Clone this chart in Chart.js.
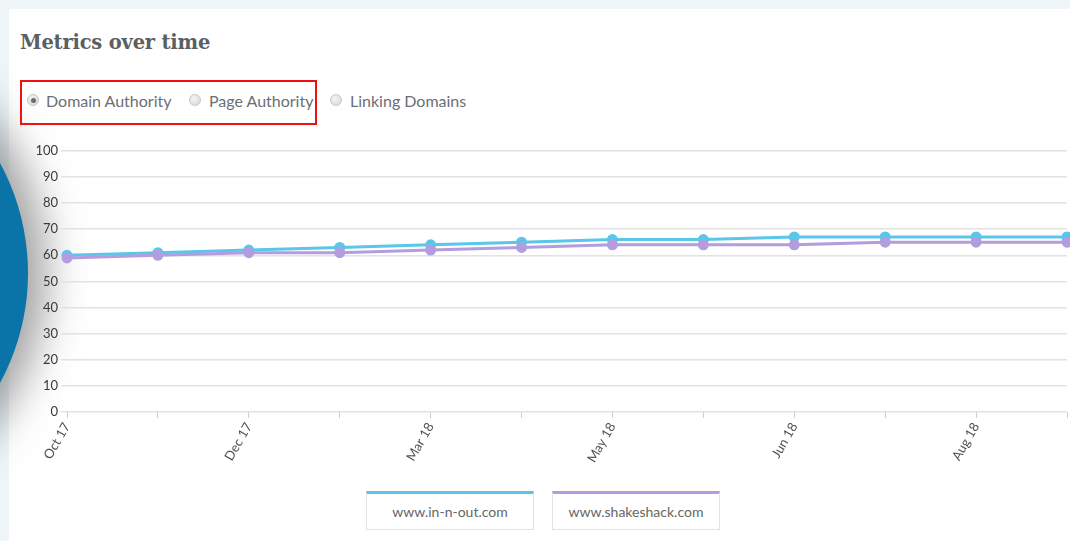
<!DOCTYPE html>
<html>
<head>
<meta charset="utf-8">
<script src="https://cdn.jsdelivr.net/npm/chart.js@4.4.0/dist/chart.umd.min.js"></script>
<style>
  html,body{margin:0;padding:0;}
  body{width:1070px;height:541px;background:#eef6f8;position:relative;overflow:hidden;font-family:Lato,"Open Sans",sans-serif;}
  #card{position:absolute;left:9px;top:9px;width:1061px;height:532px;background:#fff;}
  #title{position:absolute;left:20px;top:31px;font-family:"DejaVu Serif",serif;font-weight:bold;font-size:19.5px;color:#5a5f63;letter-spacing:-0.2px;}
  .rt{position:absolute;top:91px;font-size:16px;color:#6b6f73;white-space:nowrap;}
  .dot{position:absolute;top:94px;width:12px;height:12px;border-radius:50%;background:radial-gradient(circle at 40% 35%,#f4f4f4,#d6d6d6);border:1px solid #c8c8c8;box-sizing:border-box;}
  .dot.on::after{content:"";position:absolute;left:2.5px;top:2.5px;width:5px;height:5px;border-radius:50%;background:#6a6a6a;}
  #redbox{position:absolute;left:20px;top:80px;width:297px;height:45px;border:2px solid #f01010;box-sizing:border-box;}
  #circle{position:absolute;left:-432px;top:43px;width:460px;height:460px;border-radius:50%;background:#0a73a7;box-shadow:6px 0 40px 12px rgba(70,70,70,0.5);}
  #wrap{position:absolute;left:0;top:140px;width:1070px;height:360px;}
  #legend{position:absolute;top:491px;left:0;width:1070px;}
  .lg{position:absolute;height:39px;border:1px solid #e3e3e3;border-top:3px solid;box-sizing:border-box;font-size:14px;color:#666;text-align:center;line-height:36px;background:#fff;}
</style>
</head>
<body>
<div id="card"></div>
<div id="circle"></div>
<div id="title">Metrics over time</div>
<div id="radios"></div>
<div id="redbox"></div>
<div id="wrap"><canvas id="c" width="1070" height="360"></canvas></div>
<div id="legend"></div>
<script>
const categories = ["Oct 17","Nov 17","Dec 17","Jan 18","Mar 18","Apr 18","May 18","May 18","Jun 18","Jul 18","Aug 18","Sep 18"];
const seriesNames = ["www.in-n-out.com","www.shakeshack.com"];
const inNOut   = [60,61,62,63,64,65,66,66,67,67,67,67];
const shakeShack = [59,60,61,61,62,63,64,64,64,65,65,65];
const yTicks = [0,10,20,30,40,50,60,70,80,90,100];
const radioLabels = ["Domain Authority","Page Authority","Linking Domains"];
const colors = ["#5ac6ea","#b39ddf"];

// radios
const rd = document.getElementById('radios');
const rx=[[27,46],[189,209],[330,350]];
radioLabels.forEach((t,i)=>{
  const d=document.createElement('span'); d.className='dot'+(i===0?' on':''); d.style.left=rx[i][0]+'px'; rd.appendChild(d);
  const s=document.createElement('span'); s.className='rt'; s.style.left=rx[i][1]+'px'; s.textContent=t; rd.appendChild(s);
});
// legend
const lg=document.getElementById('legend');
const lpos=[[366,168],[552,168]];
seriesNames.forEach((n,i)=>{
  const d=document.createElement('div'); d.className='lg';
  d.style.left=lpos[i][0]+'px'; d.style.width=lpos[i][1]+'px'; d.style.borderTopColor=colors[i];
  d.textContent=n; lg.appendChild(d);
});

new Chart(document.getElementById('c'),{
  type:'line',
  data:{labels:categories,datasets:[
    {label:seriesNames[0],data:inNOut,borderColor:colors[0],backgroundColor:colors[0],borderWidth:3,pointRadius:4,pointHoverRadius:4,tension:0},
    {label:seriesNames[1],data:shakeShack,borderColor:colors[1],backgroundColor:colors[1],borderWidth:3,pointRadius:4,pointHoverRadius:4,tension:0}
  ].reverse()},
  options:{
    responsive:false,animation:false,
    layout:{autoPadding:false,padding:{top:8,right:3,left:0,bottom:0}},
    plugins:{legend:{display:false},tooltip:{enabled:false}},
    scales:{
      x:{
        offset:false,
        grid:{display:true,drawOnChartArea:false,drawTicks:true,tickLength:6,color:'#cfcfcf',lineWidth:1},
        border:{display:false},
        ticks:{autoSkip:false,maxRotation:60,minRotation:60,color:'#505050',font:{family:'Lato',size:13},padding:2,
          callback:function(v,i){return i%2===0?categories[i]:'';}},
        afterFit:function(s){s.height=88;s.paddingRight=0;s.paddingLeft=0;}
      },
      y:{
        min:0,max:100,
        afterBuildTicks:function(s){s.ticks=yTicks.map(v=>({value:v}));},
        grid:{color:'#e2e2e2',lineWidth:1.5,tickLength:6},
        border:{display:false},
        ticks:{color:'#3a3a3a',font:{family:'Lato',size:13},padding:3},
        afterFit:function(s){s.width=67;}
      }
    }
  }
});
</script>
</body>
</html>
